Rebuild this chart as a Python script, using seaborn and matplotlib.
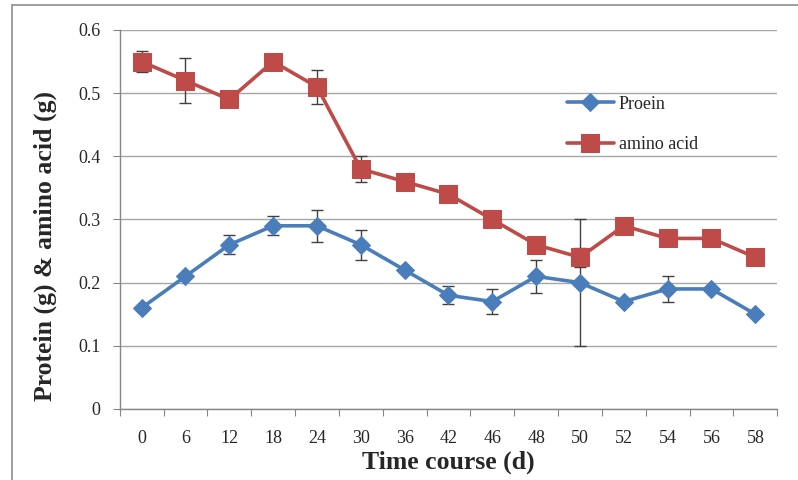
import numpy as np
import pandas as pd
import seaborn as sns
import matplotlib.pyplot as plt
from matplotlib.lines import Line2D

days = ['0', '6', '12', '18', '24', '30', '36', '42', '46', '48', '50', '52', '54', '56', '58']
protein = [0.16, 0.21, 0.26, 0.29, 0.29, 0.26, 0.22, 0.18, 0.17, 0.21, 0.20, 0.17, 0.19, 0.19, 0.15]
protein_err = [0.0, 0.0, 0.015, 0.015, 0.025, 0.024, 0.0, 0.014, 0.02, 0.026, 0.10, 0.0, 0.02, 0.0, 0.0]
amino = [0.55, 0.52, 0.49, 0.55, 0.51, 0.38, 0.36, 0.34, 0.30, 0.26, 0.24, 0.29, 0.27, 0.27, 0.24]
amino_err = [0.017, 0.035, 0.0, 0.0, 0.027, 0.02, 0.0, 0.012, 0.0, 0.0, 0.015, 0.0, 0.0, 0.0, 0.0]

blue = '#4a7ebb'
red = '#be4b48'

sns.set_style('white')
plt.rcParams['font.family'] = ['Liberation Serif', 'DejaVu Serif']

pos = np.arange(len(days))
df = pd.DataFrame({'pos': np.concatenate([pos, pos]),
                   'value': protein + amino,
                   'series': ['Proein'] * len(days) + ['amino acid'] * len(days)})

fig = plt.figure(figsize=(7.98, 4.8), dpi=100)
ax = fig.add_axes([0.150, 0.148, 0.824, 0.7895])

# error bars behind the lines
ax.errorbar(pos, protein, yerr=protein_err, fmt='none', ecolor='#404040',
            elinewidth=1, capsize=4, capthick=1, zorder=2)
ax.errorbar(pos, amino, yerr=amino_err, fmt='none', ecolor='#404040',
            elinewidth=1, capsize=4, capthick=1, zorder=2)

sns.lineplot(data=df[df.series == 'Proein'], x='pos', y='value', ax=ax, color=blue,
             lw=2.6, marker='D', markersize=9.5, markeredgecolor=blue, label='Proein', zorder=3)
sns.lineplot(data=df[df.series == 'amino acid'], x='pos', y='value', ax=ax, color=red,
             lw=2.6, marker='s', markersize=12.5, markeredgecolor=red, label='amino acid', zorder=3)

ax.set_ylim(0, 0.6)
ax.set_yticks(np.arange(0, 0.61, 0.1))
ax.set_yticklabels(['0', '0.1', '0.2', '0.3', '0.4', '0.5', '0.6'])
ax.yaxis.grid(True, color='#a6a6a6', lw=1)
ax.set_axisbelow(True)

# excel style: ticks between categories, labels centred
ax.set_xlim(-0.5, len(days) - 0.5)
ax.set_xticks(np.arange(-0.5, len(days), 1))
ax.set_xticklabels([])
ax.set_xticks(pos, minor=True)
ax.set_xticklabels(days, minor=True)
ax.tick_params(axis='x', which='major', direction='out', length=5, color='#868686', bottom=True)
ax.tick_params(axis='x', which='minor', length=0, labelsize=13, pad=15)
ax.tick_params(axis='y', direction='out', length=5, color='#868686', left=True, labelsize=13, pad=9)

for s in ['top', 'right']:
    ax.spines[s].set_visible(False)
for s in ['left', 'bottom']:
    ax.spines[s].set_color('#868686')
    ax.spines[s].set_linewidth(1)

ax.set_xlabel('Time course (d)', fontsize=18.5, fontweight='bold', labelpad=3)
ax.set_ylabel('Protein (g) & amino acid (g)', fontsize=18.5, fontweight='bold')
ax.yaxis.set_label_coords(-0.096, 0.43)

ax.legend(loc='upper left', bbox_to_anchor=(0.655, 0.87), frameon=False, fontsize=13,
          handlelength=2.6, labelspacing=1.3, handletextpad=0.3)

# chart area border (only left and top edges show in the picture)
fig.add_artist(Line2D([12 / 798, 12 / 798], [0, 1 - 5 / 480], transform=fig.transFigure,
                      color='#8c8c8c', lw=1.2))
fig.add_artist(Line2D([12 / 798, 1], [1 - 5 / 480, 1 - 5 / 480], transform=fig.transFigure,
                      color='#8c8c8c', lw=1.2))

fig.savefig('out.png', dpi=100)
